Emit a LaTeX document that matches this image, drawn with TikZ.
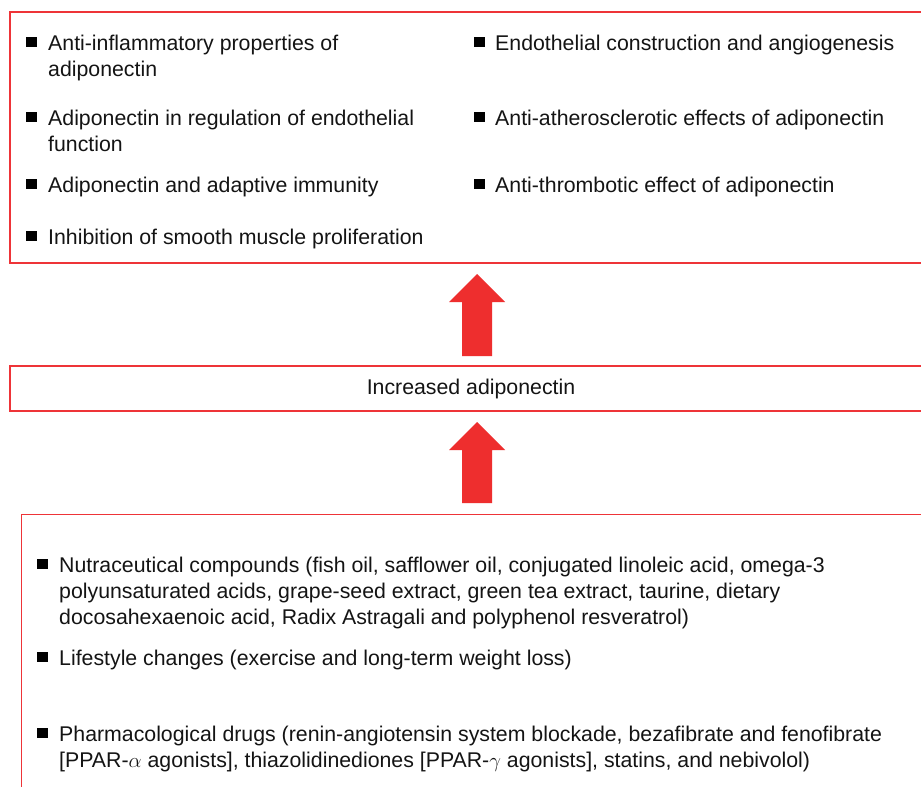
\documentclass[tikz,border=0pt]{standalone}
\usepackage{fontspec}
\setmainfont{Liberation Sans}
\definecolor{boxred}{RGB}{238,52,56}
\definecolor{arrred}{RGB}{238,46,46}
\definecolor{txtblack}{RGB}{20,20,20}
\begin{document}
\begin{tikzpicture}[x=1pt,y=-1pt,
  txt/.style={anchor=base west, inner sep=0pt, font=\fontsize{21.3}{26}\selectfont, align=left, text=txtblack},
  bul/.style={fill=black, minimum size=10.5pt, inner sep=0pt, anchor=south west},
  bigarrow/.style={fill=arrred, draw=none}]
\useasboundingbox (0,0) rectangle (921,787);
\fill[white] (0,0) rectangle (921,787);
% boxes (right side runs off the picture)
\draw[boxred, line width=2pt] (921,12) -- (10,12) -- (10,263) -- (921,263);
\draw[boxred, line width=1.5pt] (921,366) -- (10,366) -- (10,411) -- (921,411);
\draw[boxred, line width=1pt] (921,514) -- (21,514) -- (21,787);
% top box items (multi-line nodes anchored on their last baseline)
\node[bul] (b1) at (26,47.5) {};
\node[txt] (t1) at (48,76) {Anti-inflammatory properties of\\adiponectin};
\node[bul] (b2) at (26,122.5) {};
\node[txt] (t2) at (48,151) {Adiponectin in regulation of endothelial\\function};
\node[bul] (b3) at (26,189.5) {};
\node[txt] (t3) at (48,192) {Adiponectin and adaptive immunity};
\node[bul] (b4) at (26,241.5) {};
\node[txt] (t4) at (48,244) {Inhibition of smooth muscle proliferation};
\node[bul] (b5) at (474,47.5) {};
\node[txt] (t5) at (495,50) {Endothelial construction and angiogenesis};
\node[bul] (b6) at (474,122.5) {};
\node[txt] (t6) at (495,125) {Anti-atherosclerotic effects of adiponectin};
\node[bul] (b7) at (474,189.5) {};
\node[txt] (t7) at (495,192) {Anti-thrombotic effect of adiponectin};
% middle
\node[txt, anchor=base] (mid) at (471,394) {Increased adiponectin};
% arrows
\coordinate (a1) at (477,274);
\fill[bigarrow] (a1) -- (505,302) -- (492,302) -- (492,356) -- (462,356) -- (462,302) -- (449,302) -- cycle;
\coordinate (a2) at (477,422);
\fill[bigarrow] (a2) -- (505,450) -- (492,450) -- (492,503) -- (462,503) -- (462,450) -- (449,450) -- cycle;
% bottom items
\node[bul] (c1) at (37,569.5) {};
\node[txt] (u1) at (59,624) {Nutraceutical compounds (fish oil, safflower oil, conjugated linoleic acid, omega-3\\polyunsaturated acids, grape-seed extract, green tea extract, taurine, dietary\\docosahexaenoic acid, Radix Astragali and polyphenol resveratrol)};
\node[bul] (c2) at (37,662.5) {};
\node[txt] (u2) at (59,665) {Lifestyle changes (exercise and long-term weight loss)};
\node[bul] (c3) at (37,738.5) {};
\node[txt] (u3) at (59,767) {Pharmacological drugs (renin-angiotensin system blockade, bezafibrate and fenofibrate\\{[PPAR-$\alpha$ agonists]}, thiazolidinediones [PPAR-$\gamma$ agonists], statins, and nebivolol)};
\end{tikzpicture}
\end{document}
